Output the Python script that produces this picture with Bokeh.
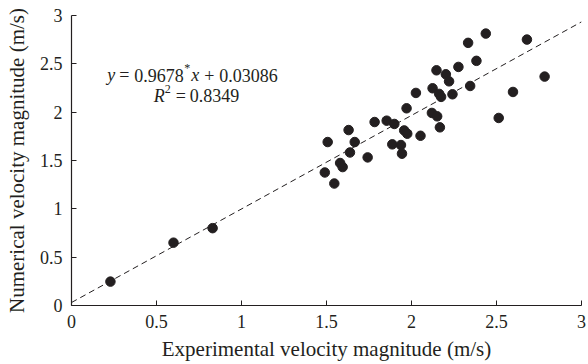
from bokeh.plotting import figure
from bokeh.models import Range1d, FixedTicker, Label, ColumnDataSource
from bokeh.embed import file_html
from bokeh.resources import INLINE

# ---- data ----
x_exp = [0.229, 0.60, 0.83,
         1.507, 1.630, 1.666, 1.638, 1.580, 1.595, 1.490, 1.546, 1.742, 1.783,
         1.854, 1.899, 1.887, 1.938, 1.944, 1.957, 1.975, 2.053,
         2.026, 1.971, 2.124, 2.147, 2.202, 2.221, 2.276, 2.163, 2.174, 2.241,
         2.333, 2.437, 2.382, 2.345, 2.679, 2.783, 2.597, 2.513, 2.120, 2.151, 2.167]
y_num = [0.247, 0.65, 0.80,
         1.691, 1.815, 1.691, 1.583, 1.474, 1.432, 1.376, 1.262, 1.532, 1.898,
         1.912, 1.878, 1.667, 1.660, 1.570, 1.811, 1.777, 1.756,
         2.199, 2.040, 2.247, 2.433, 2.392, 2.319, 2.468, 2.189, 2.158, 2.185,
         2.717, 2.813, 2.531, 2.271, 2.751, 2.368, 2.209, 1.940, 1.992, 1.957, 1.843]
fit_slope = 0.9678
fit_intercept = 0.03086
fit_r2 = 0.8349
fit_x = [0.0, 3.0]
fit_y = [fit_slope * v + fit_intercept for v in fit_x]

tick_values = [0, 0.5, 1, 1.5, 2, 2.5, 3]
tick_labels = ["0", "0.5", "1", "1.5", "2", "2.5", "3"]

FONT = "Liberation Serif"
INK = "#231f20"

p = figure(width=588, height=364, output_backend="svg", toolbar_location=None,
           x_range=Range1d(0, 3), y_range=Range1d(0, 3),
           min_border_left=71, min_border_right=7, min_border_top=15, min_border_bottom=59)
p.outline_line_color = None
p.xgrid.grid_line_color = None
p.ygrid.grid_line_color = None
p.background_fill_color = "white"
p.border_fill_color = "white"

overrides = {v: s for v, s in zip(tick_values, tick_labels)}
for ax in (p.xaxis[0], p.yaxis[0]):
    ax.ticker = FixedTicker(ticks=tick_values)
    ax.major_label_overrides = overrides
    ax.minor_tick_line_color = None
    ax.major_tick_in = 5
    ax.major_tick_out = 0
    ax.major_tick_line_color = INK
    ax.axis_line_color = INK
    ax.axis_line_width = 1.2
    ax.major_label_text_font = FONT
    ax.major_label_text_font_size = "18px"
    ax.major_label_text_color = INK
    ax.axis_label_text_font = FONT
    ax.axis_label_text_font_size = "21px"
    ax.axis_label_text_font_style = "normal"
    ax.axis_label_text_color = INK

p.xaxis.axis_label = "Experimental velocity magnitude (m/s)"
p.yaxis.axis_label = "Numerical velocity magnitude (m/s)"
p.xaxis.major_label_standoff = 9
p.xaxis.axis_label_standoff = 6
p.yaxis.major_label_standoff = 9
p.yaxis.axis_label_standoff = 8

p.line(fit_x, fit_y, line_color=INK, line_width=1, line_dash="6 4")

src = ColumnDataSource(dict(x=x_exp, y=y_num))
p.scatter("x", "y", source=src, size=9.5, fill_color=INK, line_color=INK)

# ---- equation annotation ----
fs = "18px"
sup = "12px"
x1, y1 = 0.21, 2.381
x2, y2 = 0.484, 2.17
pieces = [
    (x1, y1, 0, 0, "y", "italic", fs),
    (x1, y1, 12, 0, "=", "normal", fs),
    (x1, y1, 27, 0, "0.9678", "normal", fs),
    (x1, y1, 77, 7, "*", "normal", sup),
    (x1, y1, 84, 0, "x", "italic", fs),
    (x1, y1, 97, 0, "+", "normal", fs),
    (x1, y1, 112, 0, "0.03086", "normal", fs),
    (x2, y2, 0, 0, "R", "italic", fs),
    (x2, y2, 11, 7, "2", "normal", sup),
    (x2, y2, 22, 0, "=", "normal", fs),
    (x2, y2, 36, 0, "%.4f" % fit_r2, "normal", fs),
]
for (lx, ly, dx, dy, t, style, size) in pieces:
    p.add_layout(Label(x=lx, y=ly, x_offset=dx, y_offset=dy, text=t,
                       text_font=FONT, text_font_style=style, text_font_size=size,
                       text_color=INK, text_baseline="alphabetic", text_align="left"))

open("out.html", "w").write(file_html(p, INLINE))
